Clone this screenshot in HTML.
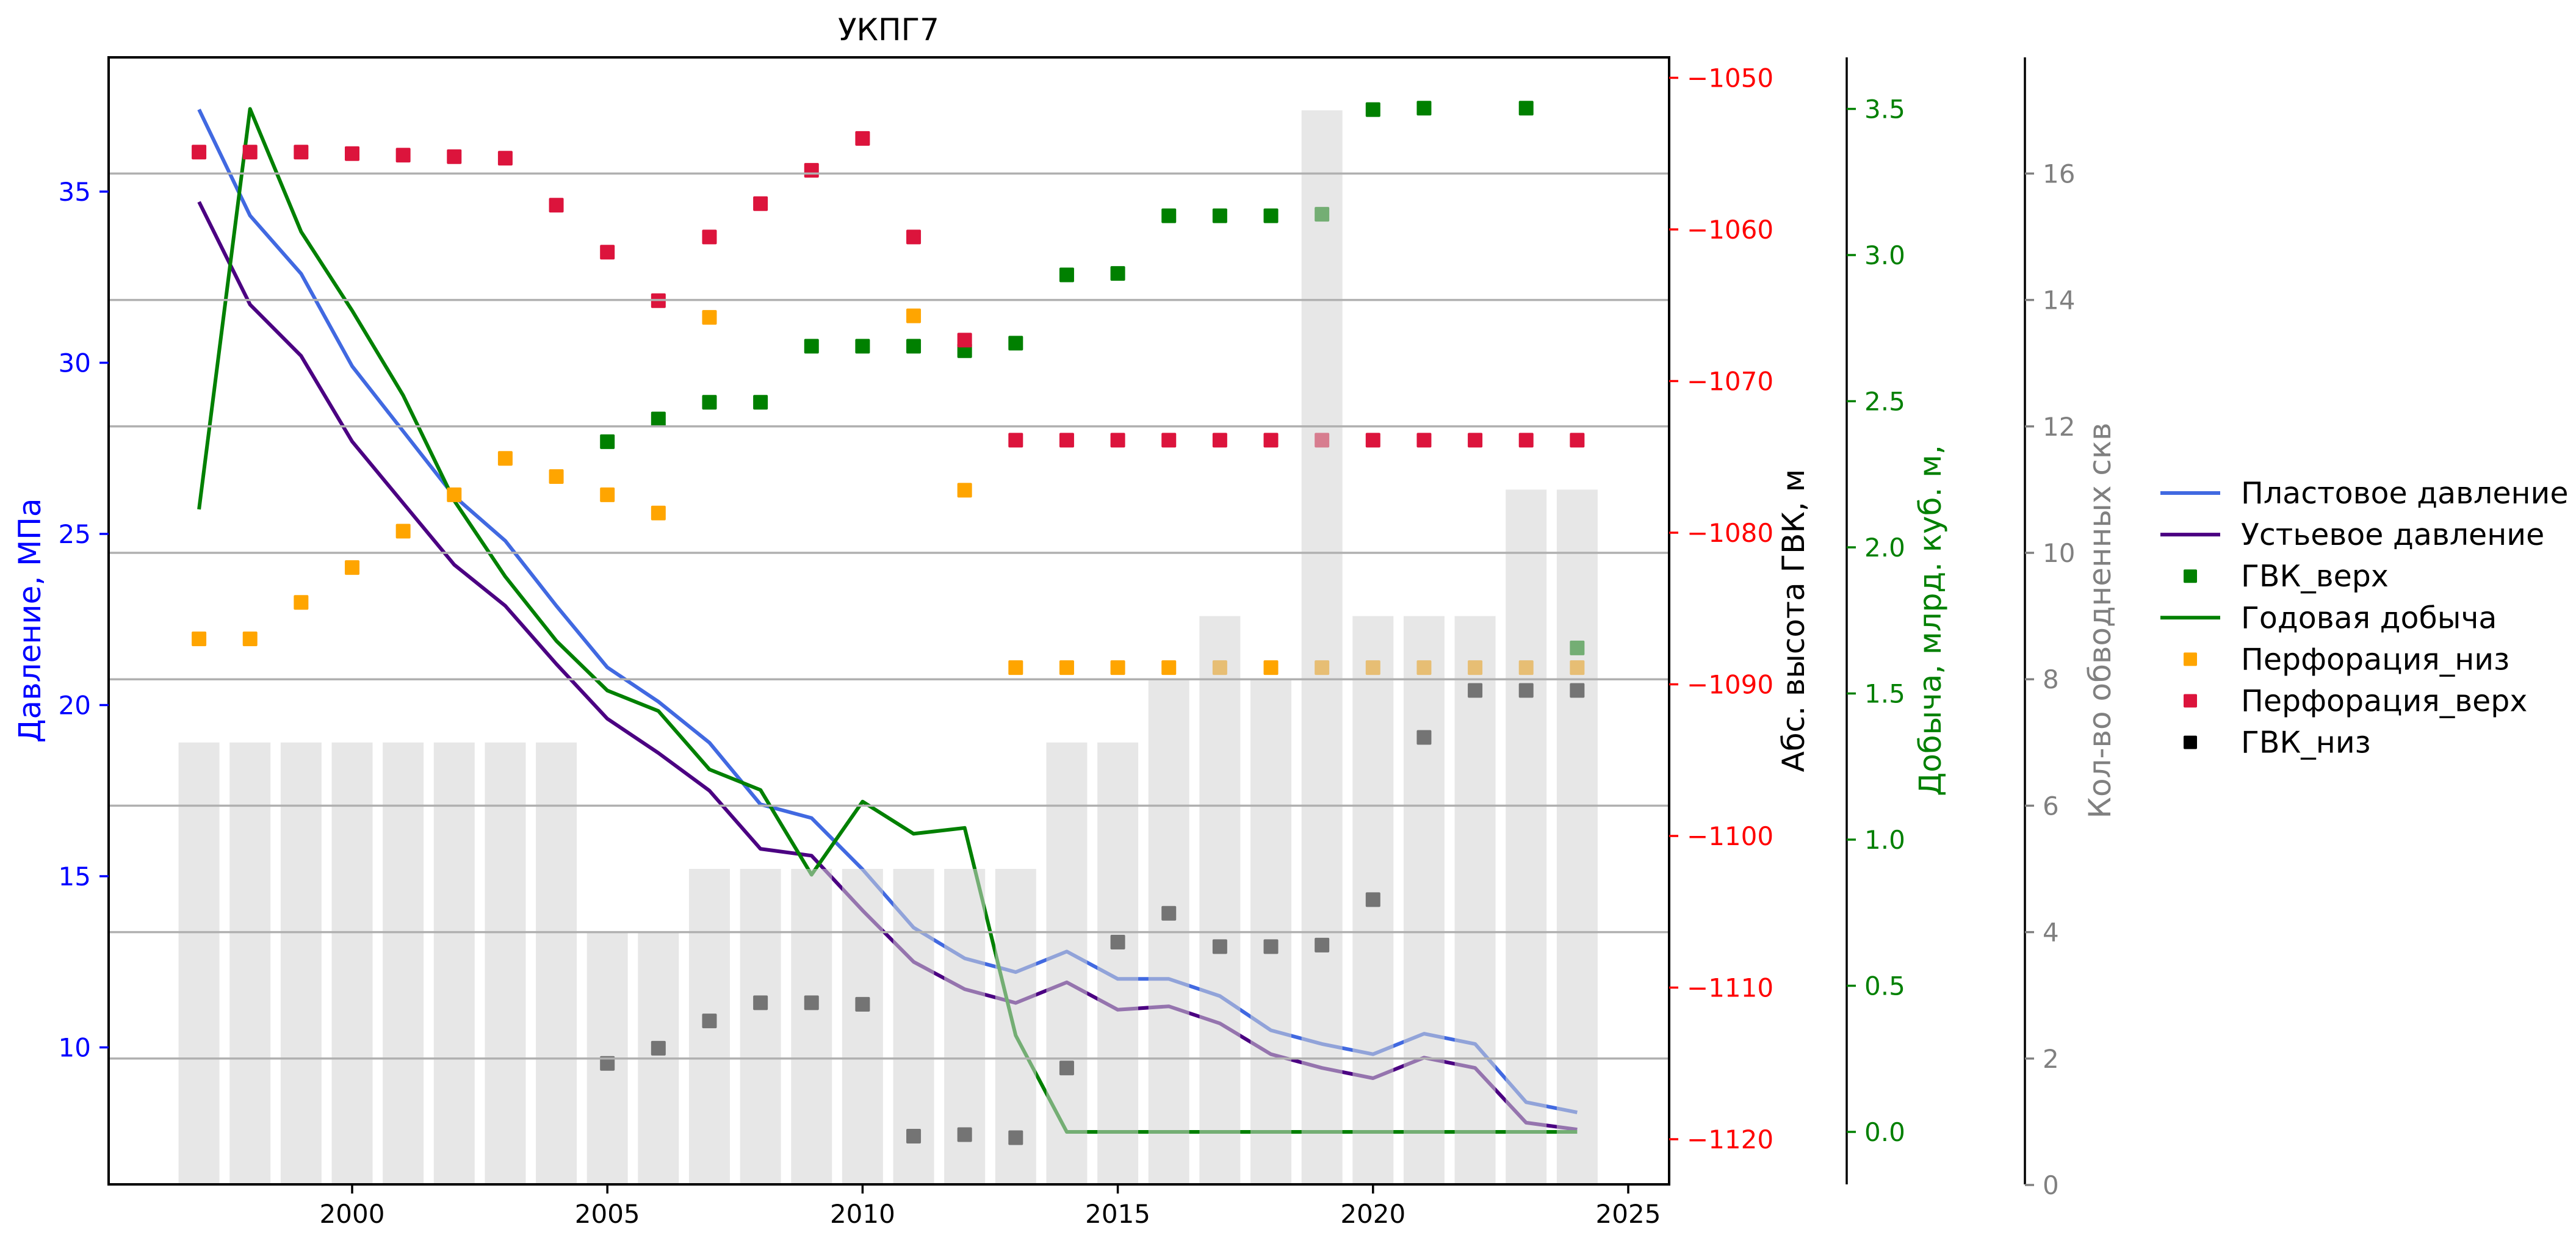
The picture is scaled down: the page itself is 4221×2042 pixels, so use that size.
<!DOCTYPE html>
<html><head><meta charset="utf-8"><style>
html,body{margin:0;padding:0;background:#fff;}
svg{display:block;font-family:"DejaVu Sans","Liberation Sans",sans-serif;}
</style></head><body>
<svg id="chart" xmlns="http://www.w3.org/2000/svg" width="4221" height="2042" viewBox="0 0 4221 2042">
<g id="layer-lines"></g>
<g id="layer-markers"></g>
<g id="layer-bars"></g>
<g id="layer-grid"></g>
<g id="layer-axes"></g>
<text x="1456" y="66" font-size="50" text-anchor="middle" fill="#000">УКПГ7</text>
<text transform="translate(66,1017) rotate(-90)" font-size="50" text-anchor="middle" fill="#0000ff">Давление, МПа</text>
<text transform="translate(2956,1017) rotate(-90)" font-size="50" text-anchor="middle" fill="#000">Абс. высота ГВК, м</text>
<text transform="translate(3180,1017) rotate(-90)" font-size="50" text-anchor="middle" fill="#008000">Добыча, млрд. куб. м,</text>
<text transform="translate(3458,1017) rotate(-90)" font-size="50" text-anchor="middle" fill="#808080">Кол-во обводненных скв</text>
<g id="legend"></g>
</svg>
<script>
const years = [1997,1998,1999,2000,2001,2002,2003,2004,2005,2006,2007,2008,2009,2010,2011,2012,2013,2014,2015,2016,2017,2018,2019,2020,2021,2022,2023,2024];
const reservoirPressure = [37.4,34.3,32.6,29.9,28.0,26.1,24.8,22.9,21.1,20.1,18.9,17.1,16.7,15.2,13.5,12.6,12.2,12.8,12.0,12.0,11.5,10.5,10.1,9.8,10.4,10.1,8.4,8.1];
const wellheadPressure = [34.7,31.7,30.2,27.7,25.9,24.1,22.9,21.2,19.6,18.6,17.5,15.8,15.6,14.0,12.5,11.7,11.3,11.9,11.1,11.2,10.7,9.8,9.4,9.1,9.7,9.4,7.8,7.6];
const production = [2.13,3.5,3.08,2.81,2.52,2.16,1.90,1.68,1.51,1.44,1.24,1.17,0.88,1.13,1.02,1.04,0.33,0,0,0,0,0,0,0,0,0,0,0];
const perfTop = [-1054.9,-1054.9,-1054.9,-1055.0,-1055.1,-1055.2,-1055.3,-1058.4,-1061.5,-1064.7,-1060.5,-1058.3,-1056.1,-1054.0,-1060.5,-1067.3,-1073.9,-1073.9,-1073.9,-1073.9,-1073.9,-1073.9,-1073.9,-1073.9,-1073.9,-1073.9,-1073.9,-1073.9];
const perfBottom = [-1087.0,-1087.0,-1084.6,-1082.3,-1079.9,-1077.5,-1075.1,-1076.3,-1077.5,-1078.7,-1065.8,null,null,null,-1065.7,-1077.2,-1088.9,-1088.9,-1088.9,-1088.9,-1088.9,-1088.9,-1088.9,-1088.9,-1088.9,-1088.9,-1088.9,-1088.9];
const gwcTop = [null,null,null,null,null,null,null,null,-1074.0,-1072.5,-1071.4,-1071.4,-1067.7,-1067.7,-1067.7,-1068.0,-1067.5,-1063.0,-1062.9,-1059.1,-1059.1,-1059.1,-1059.0,-1052.1,-1052.0,null,-1052.0,-1087.6];
const gwcBottom = [null,null,null,null,null,null,null,null,-1115.0,-1114.0,-1112.2,-1111.0,-1111.0,-1111.1,-1119.8,-1119.7,-1119.9,-1115.3,-1107.0,-1105.1,-1107.3,-1107.3,-1107.2,-1104.2,-1093.5,-1090.4,-1090.4,-1090.4];
const wateredWells = [7,7,7,7,7,7,7,7,4,4,5,5,5,5,5,5,5,7,7,8,9,8,17,9,9,9,11,11];
const xTicks = [2000,2005,2010,2015,2020,2025];
const pTicks = [10,15,20,25,30,35];
const gwcTicks = [-1050,-1060,-1070,-1080,-1090,-1100,-1110,-1120];
const prodTicks = [0.0,0.5,1.0,1.5,2.0,2.5,3.0,3.5];
const wellTicks = [0,2,4,6,8,10,12,14,16];

const NS="http://www.w3.org/2000/svg";
const L=178,R=2735,T=94,B=1941;
const X=v=>577+(v-2000)*83.64;
const YP=v=>314+(35-v)*56.1;
const YG=v=>127.5+(-1050-v)*24.85;
const YQ=v=>1855-v*479;
const YW=v=>1942-v*103.6;
function mk(tag,attrs,parent){const e=document.createElementNS(NS,tag);for(const k in attrs)e.setAttribute(k,attrs[k]);parent.appendChild(e);return e;}
const gL=document.getElementById('layer-lines'),gM=document.getElementById('layer-markers'),gB=document.getElementById('layer-bars'),gG=document.getElementById('layer-grid'),gA=document.getElementById('layer-axes'),gLeg=document.getElementById('legend');

function line(vals,yf,color,name){
  const pts=vals.map((v,i)=>X(years[i]).toFixed(1)+','+yf(v).toFixed(1)).join(' ');
  const p=mk('polyline',{points:pts,fill:'none',stroke:color,'stroke-width':6,'stroke-linejoin':'round'},gL);
  
  
}
line(reservoirPressure,YP,'#4169e1','reservoir-pressure-line');
line(wellheadPressure,YP,'#4b0082','wellhead-pressure-line');
line(production,YQ,'#008000','annual-production-line');

function markers(vals,color,name){
  vals.forEach((v,i)=>{ if(v===null)return;
    const r=mk('rect',{x:X(years[i])-12,y:YG(v)-12,width:24,height:24,rx:2,fill:color},gM);
    
    
  });
}
markers(gwcTop,'#008000','gwc-top-marker');
markers(perfBottom,'#ffa500','perf-bottom-marker');
markers(perfTop,'#dc143c','perf-top-marker');
markers(gwcBottom,'#000000','gwc-bottom-marker');

wateredWells.forEach((v,i)=>{
  const r=mk('rect',{x:X(years[i])-33.5,y:YW(v),width:67,height:YW(0)-YW(v),fill:'#d3d3d3','fill-opacity':0.55},gB);
  
  
});
wellTicks.forEach(t=>{ if(t===0)return;
  const l=mk('line',{x1:L,x2:R,y1:YW(t),y2:YW(t),stroke:'#b0b0b0','stroke-width':3.5},gG);
  
  
});

const fr=mk('rect',{x:L,y:T,width:R-L,height:B-T,fill:'none',stroke:'#000','stroke-width':4},gA);


[3026,3318].forEach((sx,k)=>{
  const s=mk('line',{x1:sx,x2:sx,y1:T,y2:B,stroke:'#000','stroke-width':3.5},gA);
  
  
});
function ytick(yv,sx,dir,label,color,name){
  mk('line',{x1:sx,x2:sx+dir*15,y1:yv,y2:yv,stroke:color,'stroke-width':3.5},gA);
  const t=mk('text',{x:sx+dir*29,y:yv+15,'font-size':42,fill:color,'text-anchor':dir<0?'end':'start'},gA);
  t.textContent=label;
  
  
}
xTicks.forEach(t=>{
  mk('line',{x1:X(t),x2:X(t),y1:B,y2:B+15,stroke:'#000','stroke-width':3.5},gA);
  const e=mk('text',{x:X(t),y:2004,'font-size':42,'text-anchor':'middle',fill:'#000'},gA);
  e.textContent=t;
  
  
});
pTicks.forEach(t=>ytick(YP(t),L,-1,String(t),'#0000ff','pressure-tick-'+t));
gwcTicks.forEach(t=>ytick(YG(t),R,1,'\u2212'+Math.abs(t),'#ff0000','gwc-tick-'+t));
prodTicks.forEach(t=>ytick(YQ(t),3026,1,t.toFixed(1),'#008000','production-tick-'+t));
wellTicks.forEach(t=>ytick(YW(t),3318,1,String(t),'#808080','wells-tick-'+t));

const legItems=[['line','#4169e1','Пластовое давление'],['line','#4b0082','Устьевое давление'],['sq','#008000','ГВК_верх'],['line','#008000','Годовая добыча'],['sq','#ffa500','Перфорация_низ'],['sq','#dc143c','Перфорация_верх'],['sq','#000000','ГВК_низ']];
legItems.forEach((it,i)=>{
  const y=808+i*68.1;
  const g=mk('g',{},gLeg);
  
  
  if(it[0]==='line') mk('line',{x1:3540,x2:3638,y1:y,y2:y,stroke:it[1],'stroke-width':6},g);
  else mk('rect',{x:3578,y:y-11,width:22,height:22,rx:2,fill:it[1]},g);
  const t=mk('text',{x:3672,y:y+17,'font-size':49,fill:'#000'},g);
  t.textContent=it[2];
});
</script>
</body></html>
